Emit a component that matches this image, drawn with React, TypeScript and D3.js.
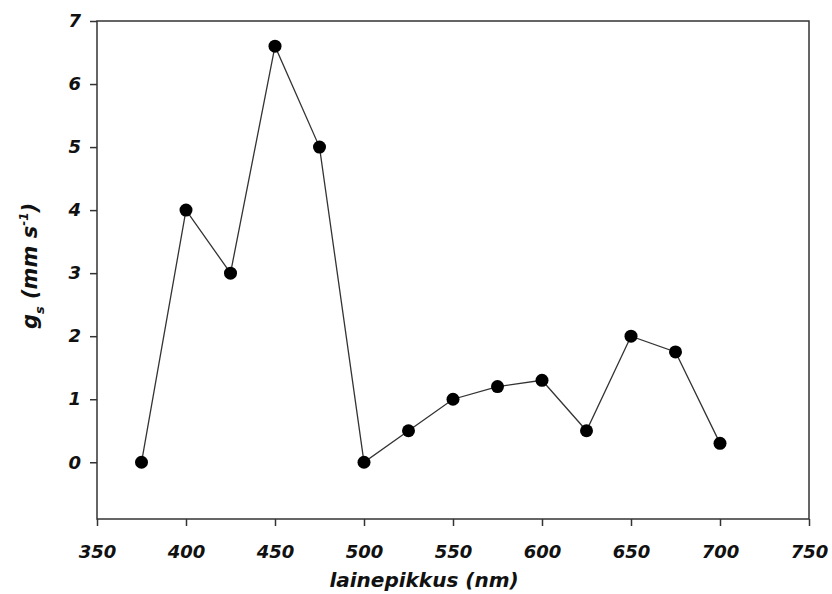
import React, { useEffect, useRef } from "react";
import * as d3 from "d3";

const wavelengths = [375, 400, 425, 450, 475, 500, 525, 550, 575, 600, 625, 650, 675, 700];
const gsValues = [0, 4, 3, 6.6, 5, 0, 0.5, 1, 1.2, 1.3, 0.5, 2, 1.75, 0.3];
const xTicks = [350, 400, 450, 500, 550, 600, 650, 700, 750];
const yTicks = [0, 1, 2, 3, 4, 5, 6, 7];

const W = 832, H = 594;
const FONT = "'DejaVu Sans', Verdana, sans-serif";

const App = () => {
  const svgRef = useRef<SVGSVGElement>(null);

  useEffect(() => {
    const svg = d3.select(svgRef.current);
    svg.selectAll("*").remove();

    const left = 97, right = 809, top = 21, bottom = 519;
    const x = d3.scaleLinear().domain([350, 750]).range([left, right]);
    const y = d3.scaleLinear().domain([-0.9, 7]).range([bottom, top]);

    // frame
    svg.append("rect")
      .attr("x", left).attr("y", top)
      .attr("width", right - left).attr("height", bottom - top)
      .attr("fill", "none").attr("stroke", "#333").attr("stroke-width", 1.5);

    const styleTicks = (g: any) => {
      g.select(".domain").remove();
      g.selectAll("line").attr("stroke", "#333").attr("stroke-width", 1.5);
      g.selectAll("text")
        .attr("fill", "#111")
        .style("font-family", FONT).style("font-size", "18px")
        .style("font-weight", "bold").style("font-style", "italic");
    };

    // y axis
    svg.append("g")
      .attr("transform", `translate(${left},0)`)
      .call(d3.axisLeft(y).tickValues(yTicks).tickSize(7).tickPadding(9).tickFormat(d3.format("d")))
      .call(styleTicks);

    // x axis
    svg.append("g")
      .attr("transform", `translate(0,${bottom})`)
      .call(d3.axisBottom(x).tickValues(xTicks).tickSize(7).tickPadding(19).tickFormat(d3.format("d")))
      .call(styleTicks);

    const pts = wavelengths.map((w, i) => [w, gsValues[i]] as [number, number]);

    const line = d3.line<[number, number]>().x(d => x(d[0])).y(d => y(d[1]));
    svg.append("path")
      .datum(pts)
      .attr("d", line)
      .attr("fill", "none")
      .attr("stroke", "#333")
      .attr("stroke-width", 1.3);

    svg.selectAll("circle.pt")
      .data(pts)
      .join("circle")
      .attr("class", "pt")
      .attr("cx", d => x(d[0]))
      .attr("cy", d => y(d[1]))
      .attr("r", 6.5)
      .attr("fill", "#000");

    // axis titles
    svg.append("text")
      .attr("x", 424)
      .attr("y", 587)
      .attr("text-anchor", "middle")
      .attr("fill", "#111")
      .style("font-family", FONT).style("font-size", "20px")
      .style("font-weight", "bold").style("font-style", "italic")
      .text("lainepikkus (nm)");

    const yt = svg.append("text")
      .attr("transform", `translate(37,266) rotate(-90)`)
      .attr("text-anchor", "middle")
      .attr("fill", "#111")
      .style("font-family", FONT).style("font-size", "21px")
      .style("font-weight", "bold").style("font-style", "italic");
    yt.append("tspan").text("g");
    yt.append("tspan").attr("dy", 7).style("font-size", "13px").text("s");
    yt.append("tspan").attr("dy", -7).text(" (mm s");
    yt.append("tspan").attr("dy", -9).style("font-size", "12px").text("-1");
    yt.append("tspan").attr("dy", 9).text(")");
  }, []);

  return (
    <svg
      ref={svgRef}
      width={W}
      height={H}
      style={{ position: "absolute", left: 0, top: 0, background: "#fff" }}
    />
  );
};

export default App;
